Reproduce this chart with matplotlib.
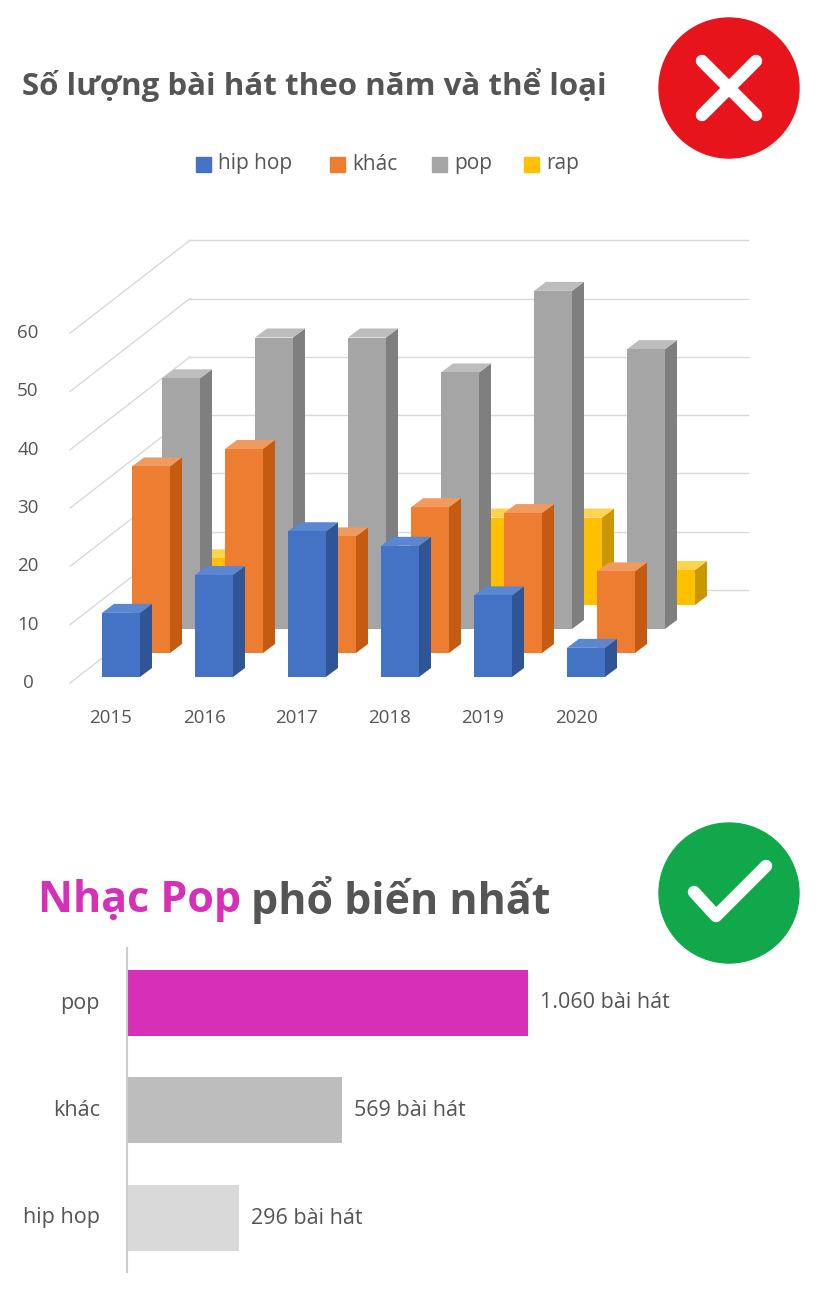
import matplotlib.pyplot as plt
from matplotlib.patches import Polygon, Rectangle, Circle

plt.rcParams['font.family'] = ['Open Sans', 'DejaVu Sans']

years = ['2015', '2016', '2017', '2018', '2019', '2020']
genres = ['hip hop', 'khác', 'pop', 'rap']
hiphop = [11, 17.5, 25, 22.5, 14, 5]
khac = [32, 35, 20, 25, 24, 14]
pop = [43, 50, 50, 44, 58, 48]
rap = [8, 6, 7, 15, 15, 6]
series = [hiphop, khac, pop, rap]
colors = ['#4472c4', '#ed7d31', '#a5a5a5', '#ffc000']
sides = ['#2f5597', '#c55a11', '#7f7f7f', '#c99700']
tops = ['#5b86d1', '#f19a5e', '#bdbdbd', '#ffd34d']

totals_lab = ['pop', 'khác', 'hip hop']
totals = [1060, 569, 296]
tot_colors = ['#d62fb8', '#bdbdbd', '#d9d9d9']

fig = plt.figure(figsize=(8.16, 12.96), dpi=100)
ax = fig.add_axes([0, 0, 1, 1])
ax.set_xlim(0, 816)
ax.set_ylim(1296, 0)
ax.axis('off')

grey = '#555555'
ax.text(22, 85, 'Số lượng bài hát theo năm và thể loại', fontsize=22.5,
        fontweight='bold', color=grey, va='center')

# legend
lx = [196, 330, 432, 524]
for x, g, c in zip(lx, genres, colors):
    ax.add_patch(Rectangle((x, 157), 15, 15, color=c))
    ax.text(x + 22, 164, g, fontsize=15, color=grey, va='center')

# grid
unit = 5.83
for k in range(7):
    y0 = 683 - unit * 10 * k
    ax.plot([70, 190], [y0, y0 - 93], color='#d9d9d9', lw=1, zorder=0)
    ax.plot([190, 748], [y0 - 93, y0 - 93], color='#d9d9d9', lw=1, zorder=0)
    ax.text(28, y0, str(10 * k), fontsize=13.5, color=grey, va='center', ha='center')
for i, y in enumerate(years):
    ax.text(111 + 93 * i, 718, y, fontsize=13.5, color=grey, va='center', ha='center')

# 3d-ish bars
w, dx, dy = 38, 12, -9
for r in range(3, -1, -1):
    for i, v in enumerate(series[r]):
        x0 = 102 + 93 * i + 30 * r
        base = 677 - 24 * r
        top = base - v * unit
        ax.add_patch(Polygon([(x0 + w, base), (x0 + w + dx, base + dy),
                              (x0 + w + dx, top + dy), (x0 + w, top)],
                             color=sides[r], lw=0))
        ax.add_patch(Polygon([(x0, top), (x0 + w, top), (x0 + w + dx, top + dy),
                              (x0 + dx, top + dy)], color=tops[r], lw=0))
        ax.add_patch(Rectangle((x0, top), w, base - top, color=colors[r], lw=0))

# red cross badge
ax.add_patch(Circle((729, 88), 70, color='#e8141c'))
ax.plot([702, 756], [61, 115], color='white', lw=9, solid_capstyle='round')
ax.plot([702, 756], [115, 61], color='white', lw=9, solid_capstyle='round')

# green check badge
ax.add_patch(Circle((729, 893), 70, color='#10a84a'))
ax.plot([694, 716, 766], [892, 916, 866], color='white', lw=9,
        solid_capstyle='round', solid_joinstyle='round')

t = ax.text(38, 900, 'Nhạc Pop', fontsize=31, fontweight='bold', color='#d62fb8', va='center')
fig.canvas.draw()
bb = t.get_window_extent().transformed(ax.transData.inverted())
ax.text(bb.x1 + 10, 900, 'phổ biến nhất', fontsize=31, fontweight='bold', color=grey, va='center')

# horizontal bars
scale = 401 / 1060
ys = [1003, 1110, 1218]
for y, lab, v, c in zip(ys, totals_lab, totals, tot_colors):
    ax.add_patch(Rectangle((127, y - 33), v * scale, 66, color=c, lw=0))
    ax.text(100, y, lab, fontsize=15.5, color=grey, va='center', ha='right')
    ax.text(127 + v * scale + 12, y, f'{v:,}'.replace(',', '.') + ' bài hát',
            fontsize=15.5, color=grey, va='center')
ax.plot([127, 127], [948, 1272], color='#cccccc', lw=1.5)

fig.savefig('out.png', dpi=100)
